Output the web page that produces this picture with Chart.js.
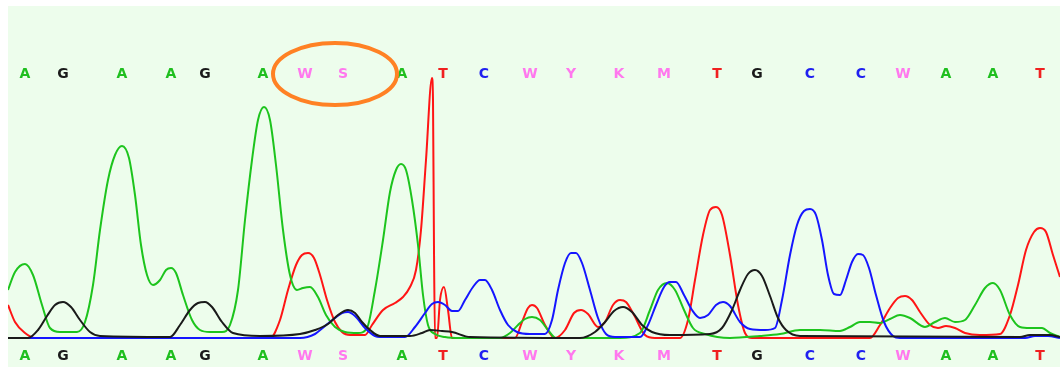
<!DOCTYPE html>
<html>
<head>
<meta charset="utf-8">
<script src="https://cdn.jsdelivr.net/npm/chart.js@4/dist/chart.umd.min.js"></script>
<style>
html,body{margin:0;padding:0;background:#fff;}
#wrap{width:1060px;height:367px;position:relative;}
</style>
</head>
<body>
<div id="wrap"><canvas id="c"></canvas></div>
<script>
// Base calls and their scan positions
const bases = ["A","G","A","A","G","A","W","S","A","T","C","W","Y","K","M","T","G","C","C","W","A","A","T"];
const basePos = [25,63,122,171,205,263,305,343,402,443,484,530,571,619,664,717,757,810,861,903,946,993,1040];

// Trace signals: [scan, intensity]
const traceA = [[8,48],[15,66],[25,74],[33,63],[42,33],[50,10],[60,6],[77,6],[85,16],[93,53],[100,108],[108,158],[115,183],[122,192],[129,180],[135,143],[141,93],[147,63],[153,53],[160,58],[166,68],[171,70],[176,65],[183,43],[192,18],[200,8],[210,6],[222,6],[230,13],[238,48],[245,118],[252,178],[258,218],[264,231],[270,218],[276,173],[283,108],[290,63],[297,48],[303,50],[310,51],[318,41],[326,23],[335,11],[345,6],[358,5],[367,10],[375,48],[383,98],[390,146],[396,168],[401,174],[406,168],[412,138],[418,93],[423,43],[428,13],[435,4],[445,1],[460,0],[500,0],[510,5],[518,13],[525,19],[532,21],[540,18],[548,8],[556,0],[620,0],[640,5],[650,28],[658,48],[667,55],[675,48],[684,28],[693,10],[705,4],[730,0],[760,2],[780,4],[800,8],[820,8],[840,7],[850,11],[860,16],[870,16],[880,15],[890,19],[900,23],[910,20],[925,11],[935,16],[945,20],[955,16],[965,18],[975,33],[985,50],[993,55],[1000,48],[1010,23],[1020,11],[1030,10],[1042,10],[1050,5],[1060,1]];
const traceT = [[8,33],[15,16],[25,5],[35,0],[270,0],[280,18],[288,48],[296,73],[302,83],[308,85],[314,80],[320,63],[327,38],[335,16],[342,6],[350,3],[365,3],[372,13],[383,28],[395,35],[403,41],[410,51],[416,68],[421,108],[426,178],[432,260],[433,238],[434,88],[435,0],[437,0],[440,38],[444,51],[448,28],[452,0],[515,0],[522,16],[528,30],[532,33],[537,30],[545,13],[555,0],[565,8],[574,25],[581,28],[588,24],[598,11],[605,16],[613,33],[620,38],[626,36],[634,23],[645,3],[655,0],[680,0],[688,18],[695,58],[703,103],[710,128],[716,131],[722,123],[730,83],[738,33],[745,5],[752,0],[870,0],[880,13],[890,30],[898,40],[905,42],[912,38],[920,26],[930,13],[938,10],[946,12],[955,10],[965,5],[980,3],[1000,4],[1010,23],[1018,53],[1026,88],[1034,106],[1040,110],[1046,106],[1053,83],[1060,61]];
const traceC = [[8,0],[300,0],[315,4],[325,12],[335,20],[342,25],[348,26],[355,22],[365,10],[375,2],[380,1],[405,1],[415,11],[425,25],[432,34],[438,36],[445,33],[452,27],[458,27],[465,38],[473,51],[480,58],[485,58],[492,48],[500,28],[508,13],[517,6],[530,4],[545,4],[552,18],[558,48],[565,75],[571,85],[576,85],[582,75],[590,48],[598,20],[606,4],[615,1],[640,1],[648,13],[656,33],[664,51],[670,56],[676,56],[684,43],[692,28],[700,20],[708,23],[716,33],[723,36],[730,32],[740,16],[750,9],[765,8],[775,10],[782,38],[790,83],[797,113],[804,127],[810,129],[816,123],[822,98],[828,63],[834,44],[840,43],[846,58],[852,76],[858,84],[863,83],[869,70],[876,43],[884,16],[893,2],[900,0],[1025,0],[1035,2],[1048,2],[1060,0]];
const traceG = [[8,0],[28,0],[38,8],[47,22],[55,33],[63,36],[71,31],[80,18],[90,6],[100,2],[170,1],[180,13],[190,28],[198,35],[205,36],[212,31],[222,16],[233,5],[260,2],[300,4],[315,8],[328,14],[338,23],[348,28],[355,25],[362,16],[370,8],[380,2],[410,2],[422,5],[430,8],[442,7],[452,6],[470,1],[580,0],[595,6],[605,16],[614,27],[623,31],[632,26],[642,13],[652,6],[670,3],[710,4],[722,10],[732,28],[740,48],[748,64],[755,68],[762,62],[770,42],[778,20],[786,8],[800,2],[1020,1],[1030,3],[1050,3],[1060,1]];

// Highlight ellipse around the heterozygous calls (scan / intensity units)
const highlight = {cx:335, cy:264, rx:62, ry:31};

const baseColor = {A:'#1FBF1F', G:'#1a1a1a', C:'#2020F0', T:'#F02020'};
const ambigColor = '#FF78EE';
const colA = '#1DC41D', colT = '#FF1515', colC = '#1515FF', colG = '#1a1a1a';

const toXY = arr => arr.map(p => ({x:p[0], y:p[1]}));

const deco = {
  id:'deco',
  beforeDraw(chart){
    const {ctx, chartArea:a} = chart;
    ctx.save();
    ctx.fillStyle = '#ffffff';
    ctx.fillRect(0,0,chart.width,chart.height);
    ctx.fillStyle = '#EDFDEC';
    ctx.fillRect(a.left, a.top, a.right-a.left, a.bottom-a.top);
    ctx.restore();
  },
  afterDatasetsDraw(chart){
    const {ctx, scales:{x,y}} = chart;
    ctx.save();
    ctx.font = 'bold 14px "DejaVu Sans", Verdana, sans-serif';
    ctx.textAlign = 'center';
    ctx.textBaseline = 'middle';
    bases.forEach((b,i) => {
      ctx.fillStyle = baseColor[b] || ambigColor;
      const px = x.getPixelForValue(basePos[i]);
      ctx.fillText(b, px, y.getPixelForValue(264));
      ctx.fillText(b, px, y.getPixelForValue(-18));
    });
    // ellipse
    const cx = x.getPixelForValue(highlight.cx), cy = y.getPixelForValue(highlight.cy);
    const rx = Math.abs(x.getPixelForValue(highlight.cx+highlight.rx)-cx);
    const ry = Math.abs(y.getPixelForValue(highlight.cy+highlight.ry)-cy);
    ctx.beginPath();
    ctx.ellipse(cx, cy, rx, ry, 0, 0, Math.PI*2);
    ctx.strokeStyle = '#FF8124';
    ctx.lineWidth = 4;
    ctx.stroke();
    ctx.restore();
  }
};

const ds = (data,color) => ({data:toXY(data), borderColor:color, borderWidth:2, pointRadius:0, fill:false, cubicInterpolationMode:'monotone'});

new Chart(document.getElementById('c'), {
  type:'line',
  data:{datasets:[ds(traceG,colG), ds(traceC,colC), ds(traceA,colA), ds(traceT,colT)]},
  options:{
    responsive:true, maintainAspectRatio:false, animation:false,
    layout:{padding:{left:8, top:6, right:0, bottom:0}},
    plugins:{legend:{display:false}, tooltip:{enabled:false}},
    scales:{
      x:{type:'linear', min:8, max:1060, display:false},
      y:{min:-29, max:332, display:false}
    }
  },
  plugins:[deco]
});
</script>
</body>
</html>
